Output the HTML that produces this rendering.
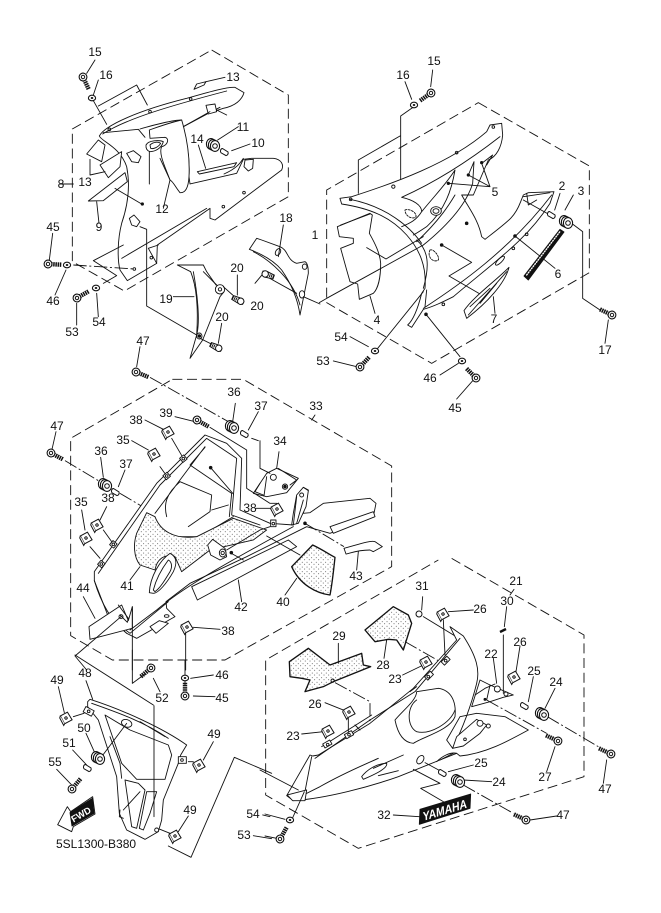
<!DOCTYPE html>
<html><head><meta charset="utf-8"><style>
html,body{margin:0;padding:0;background:#fff}
svg{display:block}
text{font-family:"Liberation Sans",sans-serif;font-size:12px;fill:#111;text-anchor:middle}
.z{fill:none;stroke:#111;stroke-width:2.7;stroke-linejoin:round;stroke-linecap:round}
.w{fill:#fff}
.d{stroke-dasharray:30 14;stroke-linecap:butt}
.c{stroke-dasharray:40 8 6 8;stroke-linecap:butt}
.h{fill:#fff;stroke-width:2.7}
.s{fill:url(#dots)}
</style></head><body>
<svg width="661" height="913" viewBox="0 0 661 913" xmlns="http://www.w3.org/2000/svg">
<defs>
<pattern id="dots" width="14" height="14" patternUnits="userSpaceOnUse"><rect width="14" height="14" fill="#fff"/><circle cx="3" cy="3" r="1.4" fill="#333"/><circle cx="10" cy="9" r="1.4" fill="#333"/></pattern>
<g id="bolt"><line x1="3" y1="0" x2="14" y2="0" stroke="#111" stroke-width="4.4" stroke-dasharray="1.5 .7"/><circle r="3.9" fill="#fff" stroke="#111" stroke-width="1.1"/><circle r="1.7" fill="none" stroke="#111" stroke-width="1"/></g>
<g id="washer"><ellipse rx="3.6" ry="2.8" fill="#fff" stroke="#111" stroke-width="1.1"/><ellipse rx="1.3" ry="1" fill="#111"/></g>
<g id="nut"><ellipse cx="-2" cy="-1" rx="4.6" ry="5.4" fill="#fff" stroke="#111" stroke-width="1.1"/><ellipse cx="0" cy="0" rx="4.6" ry="5.4" fill="#fff" stroke="#111" stroke-width="1.1"/><ellipse cx="2" cy="1" rx="4.6" ry="5.4" fill="#fff" stroke="#111" stroke-width="1.1"/><circle cx="2" cy="1" r="2.3" fill="#fff" stroke="#111" stroke-width="1"/></g>
<g id="col"><path d="M-3.5,-3.5 L2,0 A2.2,2.6 0 0 1 0,3.6 L-5,.8 A2.2,2.6 0 0 1 -3.5,-3.5Z" fill="#fff" stroke="#111" stroke-width="1"/></g>
<g id="clip"><g transform="rotate(-28)"><path d="M-4,-4.5 L4,-4.5 L4.5,4.5 L-4,4.5Z" fill="#fff" stroke="#111" stroke-width="1"/><path d="M-4,-4.5 L-5.5,-3 L-5.5,5.5 L-4,4.5" fill="#fff" stroke="#111" stroke-width="1"/><circle cx="0" cy="0" r="1.2" fill="none" stroke="#111" stroke-width="1"/></g></g>
<g id="fast"><path d="M-6,-2 L2,-3 L6,-1 L6,2 L2,3 L-6,2Z" fill="#fff" stroke="#111" stroke-width="1"/><circle cx="3" cy="0" r="3.2" fill="#fff" stroke="#111" stroke-width="1"/><line x1="-6" y1="0" x2="-1" y2="0" stroke="#111" stroke-width="3" stroke-dasharray="1 .8"/></g>
</defs>
<rect width="661" height="913" fill="#fff"/>

<!-- group A -->
<g transform="translate(40,30) scale(.33333)" class="z">
<path class="d" d="M515,60 L745,195 L745,500 L253,783 L97,695 L97,297 Z"/>
<path d="M155,203 L200,283 M175,228 L290,165 L322,225"/>
<path class="w" d="M178,318 C195,285 300,240 440,205 C500,188 560,170 585,172 L612,188 C606,210 585,228 550,235 L505,250 L430,290 C440,330 450,390 447,440 L450,462 L590,430 L610,388 L635,385 L700,385 C725,388 732,405 725,420 L525,570 L510,565 L510,535 L352,645 L350,700 L262,752 L240,720 C232,690 232,630 245,580 C262,530 272,470 260,410 C240,350 185,335 178,318Z"/>
<path d="M188,312 C260,265 400,225 560,183 M190,308 L295,298 L315,322 M300,297 C340,285 400,270 425,270 M505,250 L540,232 M245,685 L500,535"/>
<path class="w" d="M328,300 C370,285 400,275 425,270 C440,320 450,380 447,440 C445,475 435,490 420,488 C405,470 400,455 390,450 C375,410 355,370 365,350 C385,345 388,325 375,322 L330,325Z"/>
<path class="w" d="M318,345 C325,330 360,330 370,335 C365,355 345,365 330,365 C320,362 317,355 318,345Z"/>
<path d="M330,345 C340,335 355,335 362,340 C355,352 340,358 332,355Z M328,365 L328,462 M360,385 L390,450 L370,535"/>
<path class="w" d="M140,372 L175,330 L195,345 L185,395Z"/>
<path class="w" d="M180,405 L245,365 L240,410 L205,443Z"/>
<path d="M150,388 L150,435 M150,435 L195,425"/>
<path class="w" d="M145,513 L255,428 L262,455 L190,512 Z"/>
<path d="M170,515 L177,580 M225,475 L305,522"/>
<path class="w" d="M462,178 L470,162 L498,155 L492,165Z"/><path d="M498,155 L555,142"/>
<path class="w" d="M260,370 L280,362 L303,380 L295,398 L275,395Z"/>
<path class="w" d="M498,226 L525,222 L530,245 L505,252Z"/><path d="M530,240 L560,255 M430,290 L510,245"/>
<path class="w" d="M472,425 L590,398 L582,410 L478,432Z"/>
<path d="M475,345 L497,415 M552,432 C590,415 600,400 610,385"/>
<path class="w" d="M615,390 L640,388 L638,415 L625,423 L612,410Z"/>
<path d="M300,590 L320,598 L320,828 L470,915"/>
<path d="M355,645 L325,655 L350,700 M160,692 L250,645 M160,692 L230,737 L190,760"/>
<path class="w" d="M268,565 L282,555 L300,575 L290,590 L275,585Z"/>
<circle cx="208" cy="298" r="4"/><circle cx="330" cy="245" r="4"/><circle cx="452" cy="207" r="4"/><circle cx="612" cy="488" r="4"/><circle cx="550" cy="530" r="4"/><circle cx="334" cy="683" r="4"/><circle cx="283" cy="717" r="4"/>
<circle cx="307" cy="522" r="3.5" fill="#111"/>
<path class="c" d="M100,705 L283,717"/>
<path d="M533,330 L595,290 M575,362 L630,342 M60,462 L100,462 M165,90 L140,130 M175,150 L160,195 M38,610 L28,690 M45,795 L78,720 M110,885 L110,820 M175,860 L170,790 M300,950 L290,1010 M400,800 L462,800 M592,735 L592,795 M645,760 L670,730 M545,880 L535,940"/>
<path class="w" d="M412,705 L490,705 L500,725 L528,765 L545,770 L552,785 L540,800 L488,930 L450,985 L470,915 C475,840 470,770 452,725 Z"/>
<path d="M490,725 L530,765 M460,725 C470,780 482,870 470,915"/>
<ellipse cx="540" cy="778" rx="14" ry="14" class="w"/><circle cx="540" cy="778" r="5"/>
<ellipse cx="478" cy="918" rx="8" ry="9" class="w"/><circle cx="478" cy="918" r="4" fill="#111"/>
<path d="M480,925 L520,945 M550,770 L578,795"/>
<path class="w" d="M628,658 L650,625 L665,630 L720,650 C745,660 740,690 770,700 L795,695 C805,700 805,720 805,730 L780,855 C775,820 760,770 725,720 C700,690 660,670 628,658Z"/>
<path d="M640,665 C690,690 760,750 780,825"/>
<ellipse cx="714" cy="666" rx="7" ry="11" transform="rotate(30 714 666)" class="w"/><ellipse cx="794" cy="710" rx="7" ry="8" class="w"/><ellipse cx="786" cy="793" rx="8" ry="11" class="w"/>
<path d="M715,680 L730,585 M680,740 L770,790 M790,800 L840,822"/>
</g>

<!-- group B -->
<g transform="translate(310,80) scale(.33333)" class="z">
<path class="d" d="M505,68 L838,258 L838,578 L365,850 L50,668 L50,330 Z"/>
<path d="M270,168 L145,240 L145,340 M312,80 L272,108 L272,300 M285,5 L305,58 M368,-30 L362,20"/>
<path class="w" d="M90,355 L125,350 C250,310 420,250 530,155 L540,135 L575,130 L578,165 C575,200 560,230 535,240 L490,345 L455,345 C480,390 505,420 515,470 L525,478 C600,420 615,410 632,365 L640,345 L655,338 L732,335 L720,370 C650,480 560,540 430,650 C400,665 370,680 340,688 L305,742 L293,735 C310,720 325,680 335,640 L345,625 C350,560 330,510 290,465 C240,410 180,385 95,372Z"/>
<path d="M120,358 C230,380 300,440 335,490 M275,352 C380,305 480,240 570,170 M275,352 C310,360 335,375 335,395 C320,420 300,430 275,440 M335,395 C380,340 410,310 435,270 C425,330 405,390 350,440 C335,450 320,460 310,465 M435,345 C420,370 390,420 320,485 M475,285 L492,245 L488,310 C470,370 420,430 340,495 M515,250 L548,225 L530,255 M350,630 L345,680 M340,625 C360,555 355,510 320,480 M340,685 C440,620 600,510 725,345 M640,350 L720,338 M650,340 L655,375 L680,360"/>
<ellipse cx="378" cy="393" rx="16" ry="13" class="w"/><ellipse cx="378" cy="393" rx="9" ry="7"/>
<path class="h" d="M285,390 C295,385 320,395 318,410 C310,420 285,410 285,390Z" stroke-dasharray="6 4"/>
<path d="M360,510 C370,505 390,530 385,540 C370,550 350,530 360,510Z" stroke-dasharray="6 4"/>
<ellipse cx="570" cy="542" rx="6" ry="18" transform="rotate(45 570 542)"/>
<circle cx="122" cy="358" r="4"/><circle cx="250" cy="320" r="5"/><circle cx="440" cy="218" r="4"/><circle cx="550" cy="141" r="4"/><circle cx="400" cy="673" r="4"/><circle cx="650" cy="463" r="4"/><circle cx="610" cy="505" r="4"/>
<path class="w" d="M82,440 L180,400 L187,405 L178,460 C195,490 210,520 212,550 C212,590 205,625 190,640 L148,658 L143,612 L120,605 L110,570 L92,505 L130,490 L130,475 L88,470Z"/>
<path d="M92,435 L180,402 M170,503 L228,537 L340,470 M180,648 L195,700 M28,668 L50,655 L340,495"/>
<circle cx="415" cy="310" r="3.5" fill="#111"/><circle cx="475" cy="285" r="3.5" fill="#111"/><circle cx="515" cy="248" r="3.5" fill="#111"/>
<path d="M415,310 L540,320 M475,285 L540,320 L515,250"/>
<circle cx="470" cy="430" r="4" fill="#111"/><circle cx="395" cy="495" r="4" fill="#111"/><circle cx="615" cy="468" r="4" fill="#111"/><circle cx="348" cy="703" r="4" fill="#111"/>
<path d="M395,495 L485,547 L417,588 L510,642 M615,468 L735,565 M348,703 L450,830"/>
<path d="M640,360 L720,405 M765,390 L790,345 M734,390 L750,340"/>
<path class="h" d="M462,692 C490,650 560,600 597,562 C585,610 530,670 470,715 Z"/><path d="M480,680 L540,625 M510,670 L560,610 M475,705 L590,575"/>
<path d="M550,650 L555,700"/>
<path fill="#111" d="M642,588 L750,448 L762,456 L655,600Z"/>
<path d="M650,585 L752,452" stroke="#fff" stroke-width="4" stroke-dasharray="3 5"/>
<path d="M785,430 L818,455 L818,655 L870,690 M895,720 L885,790"/>
<path d="M195,815 L340,635 M120,770 L175,800 M70,843 L140,860 M390,885 L445,850 M490,900 L440,957"/>
</g>

<!-- group C -->
<g transform="translate(40,370) scale(.33333)" class="z">
<path class="d" d="M397,28 L610,28 L1055,288 L1055,590 L555,870 L217,870 L92,797 L92,205 Z"/>
<path d="M815,150 L825,135"/>
<path class="c" d="M330,22 L565,155 M75,272 L180,335 M240,370 L510,530"/>
<path class="w" d="M163,605 L350,340 L495,195 L560,220 L605,265 L600,420 L690,460 L760,465 L775,380 L790,352 L805,360 L790,430 L810,428 L850,400 L990,385 L1008,400 L1000,440 L870,490 L800,470 L620,560 L450,640 L378,695 L380,715 L405,740 L290,805 L260,790 L205,740 L163,632Z"/>
<path d="M175,610 L360,345 L500,205 L590,265 L575,435 L660,465 M495,232 L450,285 L575,370 L568,440 M345,430 L495,230 M205,740 L270,790 L385,695 M163,632 C180,690 210,750 260,790 M270,780 L350,720 C420,660 520,600 760,470 M515,420 L565,405 M420,335 L515,375 L510,425 L445,470 M420,335 C380,370 370,400 380,440 M385,500 L480,500 L580,440"/>
<circle cx="512" cy="293" r="4" fill="#111"/><path d="M512,293 L580,372"/>
<path class="s" d="M320,428 L345,440 C360,480 400,510 470,500 L580,445 L680,480 L640,510 L510,540 L425,605 L405,560 C370,550 350,570 345,600 L300,585 C280,560 280,520 290,490Z"/>
<path class="w" d="M328,668 C330,620 360,570 390,550 C410,560 412,580 400,605 C380,640 355,670 340,670Z"/>
<path d="M340,660 C350,620 370,590 385,570 C395,575 398,590 390,605 C375,630 360,655 345,665Z"/>
<path class="w" d="M503,525 L518,508 L555,535 L560,560 L540,570 L512,555Z"/><ellipse cx="548" cy="549" rx="10" ry="12" class="w"/><circle cx="548" cy="549" r="5"/>
<path d="M560,540 L660,480 L690,470 M570,548 L610,570"/><circle cx="574" cy="548" r="4" fill="#111"/>
<path class="w" d="M455,650 L745,510 L770,530 L472,690Z"/><path d="M595,630 L605,695"/>
<path class="s" stroke-width="4" d="M755,590 L818,525 C850,540 870,555 885,562 C880,610 875,650 870,675 C830,670 780,645 755,590Z"/>
<path d="M780,555 L680,498 M770,625 L735,675"/>
<path class="w" d="M912,535 C950,525 990,510 1005,515 L1027,530 L1000,545 L990,540 C950,540 930,550 918,552Z"/><path d="M955,545 L950,600"/>
<circle cx="795" cy="460" r="4" fill="#111"/><path class="c" d="M795,460 L912,530"/>
<path d="M870,470 L1000,425 L1005,440 L880,490Z" class="w"/>
<path class="w" d="M640,370 L680,310 L710,295 L775,325 L740,368 L680,380Z"/><path d="M660,340 L645,365 L670,375 M680,320 L672,378 M715,295 L770,330 L750,345"/>
<circle cx="700" cy="322" r="9" class="w"/><circle cx="735" cy="350" r="8" class="w"/><circle cx="735" cy="350" r="4" fill="#111"/>
<path class="w" d="M770,375 L790,352 L805,362 L798,410 L775,460 L755,465 L760,430Z"/><circle cx="785" cy="375" r="6"/>
<path d="M770,380 L760,465 M790,390 L770,460"/>
<rect x="692" y="450" width="16" height="20" class="w"/><circle cx="700" cy="461" r="4"/>
<path d="M660,212 L660,295 L690,310 M655,212 L635,205 M510,172 L620,240 L620,355 L690,400 M690,400 L710,400 M717,245 L710,295 M586,100 L578,155 M655,125 L625,180 M405,140 L465,155"/>
<path d="M315,150 L370,178 M275,212 L325,240 M360,290 L378,315 M395,205 L430,265 M200,410 L180,450 M125,420 L135,480 M150,530 L180,565 M190,480 L215,515 M648,415 L695,415 M130,680 L165,745"/>
<path d="M182,262 L190,322 M255,300 L235,350 M48,185 L36,238"/>
<path d="M300,590 L270,630"/>
<g class="w"><rect x="372" y="310" width="16" height="16" transform="rotate(-40 380 318)"/><rect x="422" y="258" width="16" height="16" transform="rotate(-40 430 266)"/><rect x="212" y="515" width="16" height="16" transform="rotate(-50 220 523)"/><rect x="176" y="574" width="16" height="16" transform="rotate(-50 184 582)"/></g>
<circle cx="380" cy="318" r="4"/><circle cx="430" cy="266" r="4"/><circle cx="220" cy="523" r="4"/><circle cx="184" cy="582" r="4"/>
<path class="w" d="M147,770 L245,705 L265,752 L277,710 L277,775 L150,808Z"/>
<circle cx="243" cy="740" r="6"/>
<path d="M235,705 L265,745 L262,757 L240,735"/>
<path class="w" d="M330,770 L358,752 L385,760 L348,790Z"/><ellipse cx="380" cy="738" rx="7" ry="4"/>
<path d="M105,858 L243,740 M105,858 L140,900 M460,772 L540,778 M437,785 L437,900 M277,710 L277,900"/>
</g>

<!-- group D -->
<g transform="translate(260,560) scale(.33333)" class="z">
<path class="d" d="M575,-5 L972,225 L972,650 L295,865 L17,705 L17,300 L535,0"/>
<path d="M750,105 L762,88"/>
<path class="s" stroke-width="4" d="M315,210 L400,140 L445,165 L455,190 L430,270 L410,240 L385,238 L345,245Z"/>
<path class="s" stroke-width="4" d="M88,305 L145,265 L210,315 L305,280 L310,315 L332,320 L220,365 L190,380 L135,395 L150,360 L125,355 L90,350Z"/>
<path d="M380,240 L372,295 M235,250 L235,310 M488,110 L485,150 M490,170 L605,240"/>
<circle cx="218" cy="362" r="5"/><circle cx="605" cy="342" r="4" fill="#111"/><circle cx="393" cy="548" r="4" fill="#111"/>
<path class="c" d="M435,245 L605,342 M225,368 L330,425 L330,510 L393,548"/>
<path class="w" d="M80,707 L150,585 L158,588 L175,585 L330,490 L460,385 L590,240 L570,200 L610,228 C650,290 660,330 650,370 C640,410 620,480 578,565 L560,540 L600,470 L650,460 L735,470 L805,510 C750,540 680,580 600,588 L590,580 L540,600 L415,650 C330,680 200,715 100,722Z"/>
<path d="M165,595 L330,480 L465,395 L600,235 M185,560 L335,465 M450,395 L470,380 M285,495 L300,510 M130,720 L155,590 M100,720 L180,680 C250,640 300,620 355,595 M305,650 C320,630 350,610 380,610 C385,625 340,645 310,658Z M355,647 L415,632 M340,625 L430,585 M540,600 L580,580"/>
<path class="w" d="M405,480 C430,450 470,420 470,395 L535,385 C570,390 590,420 585,470 C570,510 490,530 460,550 C435,548 415,530 405,480Z"/>
<path d="M470,420 C440,440 440,500 470,515 C510,525 570,490 585,450"/>
<path class="w" d="M635,440 L660,360 L690,375 L760,405 L730,412 L690,425Z"/><path d="M645,405 L675,385 L705,372 M680,420 L690,375"/><circle cx="712" cy="387" r="9" class="w"/><circle cx="738" cy="402" r="6" class="w"/><circle cx="675" cy="418" r="3" fill="#111"/>
<path class="w" d="M590,530 L650,478 L680,495 L660,520 L610,558 L578,565Z"/><circle cx="660" cy="490" r="9" class="w"/><circle cx="685" cy="498" r="6" class="w"/><circle cx="615" cy="538" r="4"/>
<path d="M550,180 L555,285 M265,475 L265,515 M730,225 L730,400 M740,140 L733,200 M640,150 L565,155 M700,295 L710,370 M780,258 L768,335 M820,350 L805,425 M885,385 L855,445 M428,345 L490,315 M195,428 L255,452 M125,522 L190,515"/>
<g class="w"><rect x="190" y="545" width="24" height="14" transform="rotate(-30 202 552)"/><rect x="255" y="517" width="24" height="14" transform="rotate(-30 267 524)"/><rect x="495" y="340" width="24" height="14" transform="rotate(-45 507 347)"/><rect x="545" y="295" width="24" height="14" transform="rotate(-45 557 302)"/></g>
<circle cx="203" cy="554" r="4"/><circle cx="267" cy="524" r="4"/><circle cx="505" cy="350" r="4"/><circle cx="557" cy="302" r="4"/>
<ellipse cx="481" cy="599" rx="9" ry="14" transform="rotate(35 481 599)" class="w"/>
<path d="M495,608 L545,635 M530,605 C545,590 570,575 590,580 M565,635 L640,615 M610,660 L695,665"/>
<path class="c" d="M680,420 L860,520 M862,470 L1015,560 M610,675 L760,760"/>
<path d="M885,560 L860,635 M1040,600 L1030,670 M810,780 L890,768"/>
<path class="w" d="M82,705 L140,690 L135,722 L98,722Z"/>
<path d="M0,630 L115,690 M133,695 L95,780 M15,762 L75,778 M15,828 L50,835"/>
<path d="M460,628 L540,670 L482,685 L550,725 M400,765 L478,770"/>
<path d="M480,748 L632,702 L630,745 L478,793Z" fill="#111"/>
<text transform="translate(555,763) rotate(-17) skewX(-15)" textLength="138" lengthAdjust="spacingAndGlyphs" style="font-size:36px;font-weight:bold;fill:#fff;stroke:none">YAMAHA</text>
</g>

<!-- group E -->
<g transform="translate(30,650) scale(.33333)" class="z">
<path class="w" d="M173,155 L180,148 C280,180 400,235 470,285 L452,315 L445,340 L400,450 L395,510 L385,545 L345,568 L290,540 L268,490 L260,380 L205,210 L173,170 Z"/>
<path d="M225,195 L300,240 L415,285 L425,315 L405,388 L320,388 L275,340 Z M185,160 C270,190 340,215 415,265 M330,215 L405,260 M240,260 L270,340 L275,385"/>
<path class="h" d="M285,390 L325,400 L345,420 L320,535 L305,530Z"/>
<path class="h" d="M350,425 L380,425 L360,490 L340,540 L328,535Z"/>
<path d="M330,425 L280,480"/>
<ellipse cx="290" cy="220" rx="16" ry="11" transform="rotate(20 290 220)" class="w"/>
<rect x="162" y="175" width="28" height="18" transform="rotate(28 176 184)" class="w"/><circle cx="176" cy="184" r="4"/>
<rect x="445" y="320" width="24" height="20" class="w"/><circle cx="456" cy="330" r="4"/>
<circle cx="380" cy="540" r="6" class="w"/>
<path d="M270,480 L268,500 L280,505"/>
<path d="M168,92 L188,148 M85,110 L103,188 M130,200 L162,190 M168,250 L195,310 M215,320 L290,220 M128,300 L170,345 M80,358 L125,405 M550,275 L520,330 M475,335 L490,335 M475,498 L445,545 M390,538 L420,550 M372,167 L372,500 M135,15 L370,165 M307,100 L345,72 M307,100 L307,0 M370,85 L390,125 M482,85 L550,75 M490,138 L555,140 M465,30 L465,80 M465,92 L465,105"/>
<path d="M415,588 L483,622 L613,322 L725,370 M698,495 L720,500 M670,557 L725,566"/>
<path class="w" d="M83,524 L112,470 L122,485 L188,440 L195,492 L130,530 L125,545Z"/>
<path fill="#111" d="M120,488 L187,445 L192,490 L126,528Z"/>
<text transform="translate(158,502) rotate(-30)" style="font-size:28px;font-weight:bold;fill:#fff;stroke:none">FWD</text>
</g>

<!-- fasteners (original pixel coords) -->
<use href="#bolt" transform="translate(83,77) rotate(65)"/>
<use href="#bolt" transform="translate(48,264) rotate(3)"/>
<use href="#bolt" transform="translate(77,298) rotate(-30)"/>
<use href="#bolt" transform="translate(136,372) rotate(22)"/>
<use href="#bolt" transform="translate(431,93) rotate(145)"/>
<use href="#bolt" transform="translate(360,367) rotate(-47)"/>
<use href="#bolt" transform="translate(476,378) rotate(225)"/>
<use href="#bolt" transform="translate(612,315) rotate(205)"/>
<use href="#bolt" transform="translate(51,453) rotate(28)"/>
<use href="#bolt" transform="translate(197,420) rotate(30)"/>
<use href="#bolt" transform="translate(151,668) rotate(140)"/>
<use href="#bolt" transform="translate(185,696) rotate(-90)"/>
<use href="#bolt" transform="translate(72,789) rotate(-50)"/>
<use href="#bolt" transform="translate(611,754) rotate(205)"/>
<use href="#bolt" transform="translate(526,820) rotate(205)"/>
<use href="#bolt" transform="translate(558,741) rotate(205)"/>
<use href="#bolt" transform="translate(280,839) rotate(-60)"/>
<use href="#washer" x="92" y="98"/><use href="#washer" x="67" y="265"/><use href="#washer" x="96" y="288"/><use href="#washer" x="414" y="105"/><use href="#washer" x="375" y="351"/><use href="#washer" x="462" y="361"/><use href="#washer" x="185" y="678"/><use href="#washer" x="290" y="820"/>
<use href="#nut" x="213" y="145"/><use href="#nut" x="566" y="222"/><use href="#nut" x="232" y="427"/><use href="#nut" x="105" y="485"/><use href="#nut" x="98" y="758"/><use href="#nut" x="542" y="714"/><use href="#nut" x="458" y="781"/>
<use href="#col" x="226" y="152"/><use href="#col" x="553" y="215"/><use href="#col" x="246" y="434"/><use href="#col" x="117" y="492"/><use href="#col" x="526" y="706"/><use href="#col" x="444" y="773"/><use href="#col" x="89" y="768"/>
<use href="#clip" x="168" y="432"/><use href="#clip" x="154" y="454"/><use href="#clip" x="97" y="525"/><use href="#clip" x="86" y="538"/><use href="#clip" x="277" y="509"/><use href="#clip" x="187" y="627"/><use href="#clip" x="443" y="614"/><use href="#clip" x="514" y="677"/><use href="#clip" x="349" y="712"/><use href="#clip" x="426" y="662"/><use href="#clip" x="328" y="731"/><use href="#clip" x="66" y="718"/><use href="#clip" x="199" y="765"/><use href="#clip" x="175" y="836"/>
<use href="#fast" transform="translate(238,300) rotate(25)"/><use href="#fast" transform="translate(268,275) rotate(200)"/><use href="#fast" transform="translate(216,347) rotate(25)"/>
<circle cx="419" cy="614" r="3" fill="#fff" stroke="#111"/>
<path d="M500,632 L506,629" stroke="#111" stroke-width="2.4"/>

<!-- labels -->
<text x="95" y="56">15</text><text x="106" y="79">16</text><text x="233" y="81">13</text><text x="243" y="131">11</text><text x="258" y="147">10</text><text x="197" y="143">14</text><text x="61" y="188">8</text><text x="85" y="186">13</text><text x="162" y="213">12</text><text x="99" y="231">9</text><text x="53" y="231">45</text><text x="53" y="305">46</text><text x="72" y="336">53</text><text x="99" y="326">54</text><text x="143" y="345">47</text><text x="166" y="303">19</text><text x="237" y="272">20</text><text x="257" y="310">20</text><text x="222" y="321">20</text><text x="286" y="222">18</text><text x="315" y="239">1</text>
<text x="403" y="79">16</text><text x="434" y="65">15</text><text x="495" y="196">5</text><text x="562" y="190">2</text><text x="581" y="195">3</text><text x="558" y="278">6</text><text x="494" y="323">7</text><text x="377" y="324">4</text><text x="605" y="354">17</text><text x="341" y="341">54</text><text x="323" y="365">53</text><text x="430" y="382">46</text><text x="455" y="412">45</text>
<text x="234" y="396">36</text><text x="261" y="410">37</text><text x="316" y="410">33</text><text x="166" y="417">39</text><text x="136" y="424">38</text><text x="280" y="445">34</text><text x="123" y="444">35</text><text x="57" y="430">47</text><text x="101" y="455">36</text><text x="126" y="468">37</text><text x="108" y="502">38</text><text x="81" y="506">35</text><text x="250" y="512">38</text><text x="127" y="590">41</text><text x="83" y="592">44</text><text x="241" y="611">42</text><text x="283" y="606">40</text><text x="356" y="580">43</text><text x="228" y="635">38</text>
<text x="516" y="585">21</text><text x="422" y="590">31</text><text x="507" y="605">30</text><text x="480" y="613">26</text><text x="520" y="646">26</text><text x="339" y="640">29</text><text x="383" y="669">28</text><text x="491" y="658">22</text><text x="534" y="675">25</text><text x="556" y="686">24</text><text x="395" y="683">23</text><text x="315" y="708">26</text><text x="293" y="740">23</text><text x="545" y="781">27</text><text x="605" y="793">47</text><text x="481" y="767">25</text><text x="499" y="786">24</text><text x="384" y="819">32</text><text x="563" y="819">47</text><text x="253" y="818">54</text><text x="244" y="839">53</text>
<text x="162" y="702">52</text><text x="222" y="679">46</text><text x="222" y="702">45</text><text x="85" y="677">48</text><text x="57" y="684">49</text><text x="84" y="732">50</text><text x="69" y="747">51</text><text x="55" y="766">55</text><text x="214" y="738">49</text><text x="190" y="814">49</text>
<text x="56" y="848" style="text-anchor:start">5SL1300-B380</text>
</svg>
</body></html>
